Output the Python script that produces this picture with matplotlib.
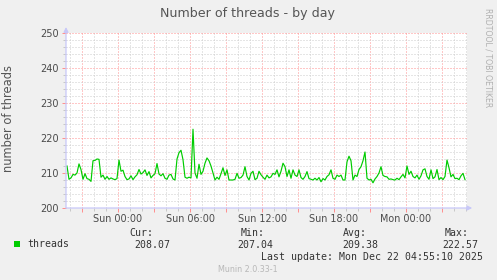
import numpy as np
import pandas as pd
import matplotlib
matplotlib.use("Agg")
import matplotlib.pyplot as plt
import matplotlib.dates as mdates
from matplotlib.ticker import FuncFormatter, MultipleLocator

# ---- data (10-minute samples) ----
threads = [
    212.0, 208.2, 208.6, 209.6, 209.4, 210.0, 212.6, 211.0, 208.2, 209.8,
    208.4, 208.2, 207.6, 213.5, 213.6, 214.0, 213.9, 208.8, 209.4, 208.2,
    209.0, 208.2, 208.6, 208.3, 208.1, 208.4, 213.7, 210.5, 210.8, 209.0,
    208.1, 208.3, 209.2, 208.1, 208.9, 209.5, 211.0, 209.7, 210.1, 210.9,
    209.3, 210.4, 208.6, 209.3, 209.8, 212.7, 209.7, 209.2, 209.8, 208.5,
    208.2, 209.4, 209.6, 208.3, 208.0, 214.0, 215.8, 216.5, 213.8, 208.8,
    208.5, 208.8, 208.6, 222.5, 210.0, 208.5, 212.5, 209.6, 210.5, 212.8,
    214.3, 213.5, 212.0, 210.0, 208.0, 208.8, 208.2, 209.8, 211.5, 209.3,
    210.9, 208.0, 208.0, 208.0, 208.2, 209.9, 208.5, 208.7, 209.4, 211.8,
    209.0, 208.0, 209.9, 210.5, 208.1, 208.5, 210.5, 209.5, 208.8, 208.2,
    209.4, 208.6, 208.9, 209.9, 209.6, 210.9, 208.9, 210.5, 212.8, 211.8,
    209.0, 210.9, 208.5, 210.9, 209.4, 209.0, 210.9, 208.7, 208.2, 209.0,
    210.4, 208.4, 208.2, 208.0, 208.5, 208.0, 208.7, 207.5, 208.4, 208.0,
    209.0, 209.5, 210.9, 208.5, 208.2, 209.4, 209.0, 209.4, 208.0, 208.0,
    213.2, 214.8, 213.5, 208.0, 209.4, 209.0, 211.0, 211.8, 213.5, 216.0,
    208.5, 208.0, 208.2, 207.2, 208.3, 209.0, 210.0, 211.8, 209.3, 209.0,
    208.9, 208.2, 208.3, 208.1, 208.0, 208.5, 208.1, 208.9, 209.6, 208.6,
    212.0, 209.6, 210.5, 209.0, 208.6, 209.4, 208.2, 209.2, 210.9, 211.2,
    209.0, 208.2, 210.9, 208.4, 208.9, 211.0, 208.1, 208.7, 208.1, 209.0,
    213.7, 211.5, 208.9, 209.6, 208.4, 208.5, 208.1, 209.2, 209.9, 208.1,
]
first_sample = "2025-12-20 19:45"
view_start = "2025-12-20 19:40"
view_end = "2025-12-22 05:05"
y_ticks = [200, 210, 220, 230, 240, 250]
label_hours = [0, 6, 12, 18]

series_name = "threads"
stat_headers = ["Cur:", "Min:", "Avg:", "Max:"]
stat_values = ["208.07", "207.04", "209.38", "222.57"]
last_update = "Last update: Mon Dec 22 04:55:10 2025"
title = "Number of threads - by day"
ylabel = "number of threads"
side_text = "RRDTOOL / TOBI OETIKER"
footer = "Munin 2.0.33-1"

# ---- figure ----
W, H = 497, 280
BG = "#F0F0F0"
fig = plt.figure(figsize=(W / 100, H / 100), dpi=100, facecolor=BG)
L, R, T, B = 66, 467, 33, 208
ax = fig.add_axes([L / W, 1 - B / H, (R - L) / W, (B - T) / H])
ax.set_facecolor("white")

def fx(px):
    return px / W

def fy(py):
    return 1 - py / H

times = pd.date_range(first_sample, periods=len(threads), freq="10min")
ax.plot(times, threads, color="#00CC00", lw=0.85, zorder=5, clip_on=False)

ax.set_xlim(pd.Timestamp(view_start), pd.Timestamp(view_end))
ax.set_ylim(y_ticks[0], y_ticks[-1])

for s in ax.spines.values():
    s.set_visible(False)

ax.xaxis.set_major_locator(mdates.HourLocator(byhour=range(0, 24, 3)))
ax.xaxis.set_minor_locator(mdates.HourLocator())

def xfmt(v, pos):
    d = mdates.num2date(v)
    if d.hour in label_hours and d.minute == 0:
        return d.strftime("%a %H:%M")
    return ""

ax.xaxis.set_major_formatter(FuncFormatter(xfmt))
ax.set_yticks(y_ticks)
ax.yaxis.set_minor_locator(MultipleLocator(2))

ax.set_axisbelow(True)
ax.grid(which="minor", color="#CCCCCC", lw=0.72, ls=(0, (1, 2)))
ax.grid(which="major", color="#FF9090", lw=0.72, ls=(0, (1, 2)))

ax.tick_params(axis="x", which="major", length=3, width=0.72, color="#FF9090",
               labelsize=6.9, labelcolor="#4A4A4A", pad=1.5)
ax.tick_params(axis="x", which="minor", length=2, width=0.72, color="#C8C8C8")
ax.tick_params(axis="y", which="major", length=3, width=0.72, color="#FF9090",
               labelsize=7.0, labelcolor="#4A4A4A", pad=2)
ax.tick_params(axis="y", which="minor", length=2, width=0.72, color="#C8C8C8")

# axis lines with arrows
axis_col = "#C8C8F8"
ax.annotate("", xy=(1.013, 0), xytext=(0, 0), xycoords="axes fraction",
            arrowprops=dict(arrowstyle="-|>", color=axis_col, lw=0.9,
                            mutation_scale=7, shrinkA=0, shrinkB=0),
            annotation_clip=False, zorder=6)
ax.annotate("", xy=(0, 1.034), xytext=(0, 0), xycoords="axes fraction",
            arrowprops=dict(arrowstyle="-|>", color=axis_col, lw=0.9,
                            mutation_scale=7, shrinkA=0, shrinkB=0),
            annotation_clip=False, zorder=6)

# texts
fig.text(fx(248), fy(13), title, ha="center", va="center", fontsize=9.1,
         color="#555555")
fig.text(fx(9), fy(119), ylabel, ha="center", va="center", rotation=90,
         fontsize=8.3, color="#555555")
fig.text(fx(488), fy(8), side_text, ha="center", va="top", rotation=270,
         fontsize=5.6, color="#B0B0B0")

mono = "DejaVu Sans Mono"
fs = 7.1
tc = "#333333"
ax_leg = fig.add_axes([0, 0, 1, 1], facecolor="none")
ax_leg.set_axis_off()
ax_leg.set_xlim(0, W)
ax_leg.set_ylim(H, 0)
ax_leg.add_patch(plt.Rectangle((14, 240.5), 6, 6, color="#00CC00", lw=0))
ax_leg.text(27, 244, series_name, ha="left", va="center", fontsize=fs,
            family=mono, color=tc)
header_right = [153, 265, 367, 469]
value_right = [170, 273, 378, 478]
for h, v, hx, vx in zip(stat_headers, stat_values, header_right, value_right):
    ax_leg.text(hx, 233, h, ha="right", va="center", fontsize=fs, family=mono, color=tc)
    ax_leg.text(vx, 245, v, ha="right", va="center", fontsize=fs, family=mono, color=tc)
ax_leg.text(483, 257, last_update, ha="right", va="center", fontsize=fs,
            family=mono, color=tc)
ax_leg.text(248, 269, footer, ha="center", va="center", fontsize=5.8,
            color="#B8B8B8")

fig.savefig("out.png", dpi=100, facecolor=BG)
